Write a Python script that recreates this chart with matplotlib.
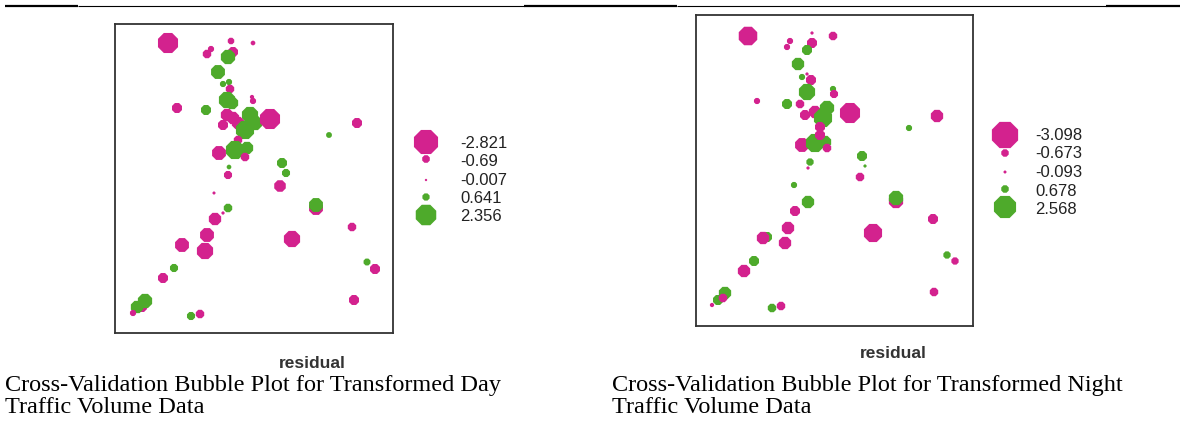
import matplotlib
matplotlib.use("Agg")
import matplotlib.pyplot as plt
import numpy as np

# cross-validation residuals, day model (map units, origin at lower-left of frame)
day_x = [53, 116, 138, 92, 96, 118, 113, 103, 108, 114, 115, 112, 117, 138, 137,
         62, 91, 112, 118, 108, 135, 123, 130, 140, 155, 123, 242, 214, 104, 120,
         132, 130, 167, 171, 114, 113, 165, 99, 113, 108, 100, 92, 67, 90, 201,
         201, 177, 237, 59, 48, 252, 260, 27, 30, 22, 18, 76, 85, 239]
day_y = [290, 292, 290, 279, 284, 281, 276, 261, 249, 251, 244, 233, 230, 232, 236,
         225, 223, 218, 215, 208, 218, 210, 203, 210, 214, 193, 210, 198, 180, 183,
         185, 176, 170, 160, 166, 158, 147, 140, 125, 120, 114, 98, 88, 82, 125,
         128, 94, 106, 65, 55, 71, 64, 26, 32, 26, 20, 17, 19, 33]
day_res = [-2.3, -0.55, -0.3, -0.8, -0.5, -1.0, 1.55, 1.5, 0.5, 0.5, -0.8, 1.8, 1.3, -0.5, -0.25,
           -1.0, 1.0, -1.3, -1.3, -1.0, 1.8, -1.3, 2.05, 1.55, -2.3, -0.8, -1.0, 0.45, -1.5, 2.05,
           1.3, -0.8, 1.0, 0.75, 0.3, -0.75, -1.2, -0.1, 0.8, -0.12, -1.3, -1.5, -1.5, -1.8, -1.5,
           1.5, -1.8, -0.8, 0.75, -1.0, 0.6, -1.0, -1.0, 1.55, 1.3, -0.5, 0.75, -0.8, -1.0]

# night model
night_x = [52, 116, 137, 94, 91, 116, 111, 102, 111, 106, 115, 61, 137, 138, 111,
           91, 104, 109, 119, 131, 127, 124, 154, 241, 213, 106, 119, 129, 124, 131,
           166, 169, 114, 112, 164, 98, 112, 99, 92, 71, 67, 89, 200, 200, 177,
           237, 58, 48, 251, 259, 238, 29, 22, 27, 16, 76, 85]
night_y = [290, 293, 290, 285, 279, 283, 276, 262, 252, 249, 246, 225, 237, 232, 234,
           222, 222, 211, 214, 218, 208, 199, 213, 210, 198, 181, 183, 184, 191, 178,
           170, 160, 164, 158, 149, 141, 124, 115, 98, 89, 88, 83, 125, 128, 93,
           107, 65, 55, 71, 65, 34, 33, 26, 28, 21, 18, 20]
night_res = [-2.1, -0.12, -0.8, -0.5, -0.5, -1.0, 1.0, 1.3, -0.12, 0.5, -1.0, -0.5, 0.5, -0.75, 1.8,
             1.0, -0.8, -1.0, -1.3, 1.55, 2.05, -1.0, -2.3, -1.3, 0.5, -1.5, 2.05, 1.3, -1.0, -0.8,
             1.0, 0.12, 0.65, -0.12, -0.8, 0.5, 1.3, -1.0, -1.3, 1.0, -1.3, -1.3, -1.55, 1.55, -2.05,
             -1.0, 1.0, -1.3, 0.65, -0.65, -0.8, 1.3, 1.0, -0.8, -0.25, 0.8, -0.8]

day_legend = [-2.821, -0.69, -0.007, 0.641, 2.356]
day_legend_labels = ["-2.821", "-0.69", "-0.007", "0.641", "2.356"]
night_legend = [-3.098, -0.673, -0.093, 0.678, 2.568]
night_legend_labels = ["-3.098", "-0.673", "-0.093", "0.678", "2.568"]

captions = ["Cross-Validation Bubble Plot for Transformed Day\nTraffic Volume Data",
            "Cross-Validation Bubble Plot for Transformed Night\nTraffic Volume Data"]

NEG = "#d3228e"
POS = "#4eaa2b"
W, H, DPI = 1180, 428, 100


def bubble_size(v):
    r = 1.2 + 4.2 * np.abs(np.asarray(v, dtype=float))  # radius in px
    return (2 * r * 72.0 / DPI) ** 2


def colours(v):
    return [NEG if a < 0 else POS for a in v]


fig = plt.figure(figsize=(W / DPI, H / DPI), dpi=DPI)
fig.patch.set_facecolor("white")


def frame_axes(left, top, width, height):
    ax = fig.add_axes([left / W, 1 - (top + height) / H, width / W, height / H])
    ax.set_xticks([])
    ax.set_yticks([])
    for sp in ax.spines.values():
        sp.set_color("#333333")
        sp.set_linewidth(1.3)
    return ax


ax1 = frame_axes(115, 24, 278, 309)
ax1.scatter(day_x, day_y, s=bubble_size(day_res), c=colours(day_res),
            marker="8", linewidths=0, zorder=3)
ax1.set_xlim(0, 278)
ax1.set_ylim(0, 309)

ax2 = frame_axes(696, 15, 277, 311)
ax2.scatter(night_x, night_y, s=bubble_size(night_res), c=colours(night_res),
            marker="8", linewidths=0, zorder=3)
ax2.set_xlim(0, 277)
ax2.set_ylim(0, 311)

# overlay in pixel units for rules, legends and captions
ov = fig.add_axes([0, 0, 1, 1], facecolor="none")
ov.set_xlim(0, W)
ov.set_ylim(H, 0)
ov.axis("off")

for x0, x1, lw in [(5, 78, 1.6), (78, 524, 0.8), (524, 677, 1.6),
                   (677, 1106, 0.8), (1106, 1180, 1.6)]:
    ov.plot([x0, x1], [6, 6], color="black", lw=lw, solid_capstyle="butt")

sans = ["Liberation Sans", "DejaVu Sans"]
serif = ["Liberation Serif", "DejaVu Serif"]


def draw_legend(vals, labels, bx, ys, tx, tys):
    ov.scatter([bx] * len(vals), ys, s=bubble_size(vals), c=colours(vals),
               marker="8", linewidths=0)
    for lab, ty in zip(labels, tys):
        ov.text(tx, ty, lab, fontsize=12, family=sans, color="#222222",
                ha="left", va="center")


draw_legend(day_legend, day_legend_labels, 426, [142, 159, 180, 197, 215],
            460, [143, 161, 180, 198, 216])
draw_legend(night_legend, night_legend_labels, 1005, [135, 153, 172, 189, 207],
            1035, [136, 154, 172, 191, 209])

ov.text(312, 363, "residual", fontsize=12.5, family=sans, weight="bold",
        color="#333333", ha="center", va="center")
ov.text(893, 353, "residual", fontsize=12.5, family=sans, weight="bold",
        color="#333333", ha="center", va="center")

# captions, one text per line so each baseline can be placed
for cx, cap in zip([5, 612], captions):
    for k, line in enumerate(cap.split("\n")):
        ov.text(cx, 391 + 22 * k, line, fontsize=17.5, family=serif,
                ha="left", va="baseline")

fig.savefig("out.png", dpi=DPI, facecolor="white")
